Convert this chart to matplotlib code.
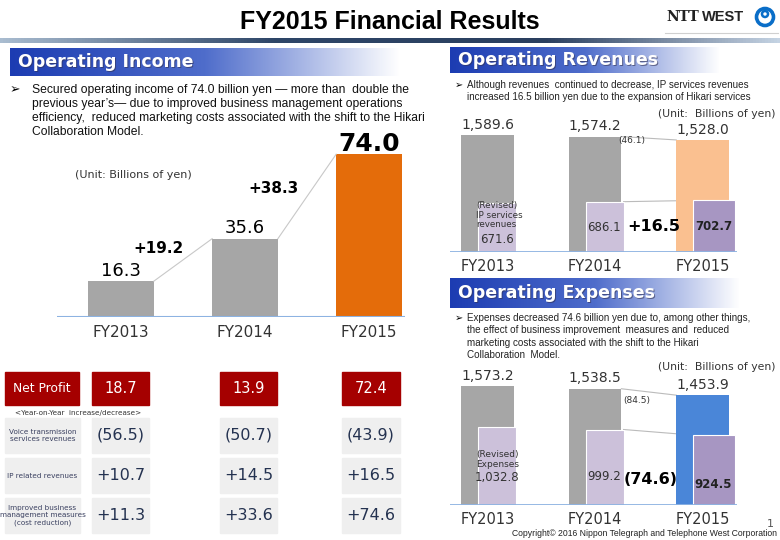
import numpy as np
import matplotlib.pyplot as plt
from matplotlib.colors import LinearSegmentedColormap
from matplotlib.patches import Rectangle, Circle

# ---- data ----
years = ['FY2013', 'FY2014', 'FY2015']

op_income = [16.3, 35.6, 74.0]
op_income_diff = ['+19.2', '+38.3']

revenues = [1589.6, 1574.2, 1528.0]
ip_revenues = [671.6, 686.1, 702.7]
revenues_diff = '(46.1)'
ip_revenues_diff = '+16.5'

expenses = [1573.2, 1538.5, 1453.9]
revised_expenses = [1032.8, 999.2, 924.5]
expenses_diff = '(84.5)'
revised_expenses_diff = '(74.6)'

net_profit = [18.7, 13.9, 72.4]
yoy_labels = ['Voice transmission\nservices revenues',
              'IP related revenues',
              'Improved business\nmanagement measures\n(cost reduction)']
yoy_voice = ['(56.5)', '(50.7)', '(43.9)']
yoy_ip = ['+10.7', '+14.5', '+16.5']
yoy_cost = ['+11.3', '+33.6', '+74.6']

# ---- figure ----
W, H = 780, 540
fig = plt.figure(figsize=(7.8, 5.4), dpi=100)
bg = fig.add_axes([0, 0, 1, 1])
bg.set_xlim(0, W)
bg.set_ylim(H, 0)
bg.axis('off')

SANS = ['Liberation Sans', 'DejaVu Sans']
gray = '#A6A6A6'
lav = '#CCC1DA'
lav_dark = '#A796C2'


def add_ax(left, top, right, bottom):
    a = fig.add_axes([left / W, 1 - bottom / H, (right - left) / W, (bottom - top) / H])
    a.patch.set_alpha(0)
    for s in a.spines.values():
        s.set_visible(False)
    a.tick_params(length=0)
    a.set_yticks([])
    return a


def gradient(x0, y0, x1, y1, colors, stops=None):
    cm = LinearSegmentedColormap.from_list('g', list(zip(stops, colors)) if stops else colors)
    bg.imshow(np.linspace(0, 1, 256).reshape(1, -1), cmap=cm, aspect='auto',
              extent=(x0, x1, y1, y0), zorder=1)


def header(x0, y0, x1, y1, text):
    gradient(x0, y0, x1, y1, ['#1C3CB2', '#4F6DCB', '#FFFFFF'], [0, 0.5, 1])
    yc = (y0 + y1) / 2
    bg.text(x0 + 9, yc + 1.2, text, color='#333355', fontsize=12.5, fontweight='bold',
            va='center', zorder=3, alpha=0.6)
    bg.text(x0 + 8, yc, text, color='white', fontsize=12.5, fontweight='bold',
            va='center', zorder=4)


# title and logo
bg.text(390, 22, 'FY2015 Financial Results', fontsize=18, fontweight='bold',
        family=SANS, ha='center', va='center')
gradient(0, 38, W, 43, ['#A9BCD0', '#2E4668', '#2A3F5F', '#C5D3E3'], [0, 0.35, 0.7, 1])
bg.text(666, 17, 'NTT', fontsize=10, fontweight='bold', family='DejaVu Serif',
        va='center', color='#222222')
bg.text(702, 17, 'WEST', fontsize=10.5, fontweight='bold', family=SANS,
        va='center', color='#222222')
bg.add_patch(Circle((765, 17), 8.5, fill=False, ec='#0A6EC8', lw=2.6, zorder=3))
bg.add_patch(Circle((765, 14), 3.0, fill=False, ec='#0A6EC8', lw=1.8, zorder=3))
bg.plot([665, 778], [33, 33], color='#D0D0D0', lw=0.8)

# section headers
header(10, 48, 400, 76, 'Operating Income')
header(450, 47, 720, 73, 'Operating Revenues')
header(450, 278, 740, 308, 'Operating Expenses')

# bullets
bg.text(10, 90, '➢', fontsize=9, family=SANS, va='center')
left_lines = ['Secured operating income of 74.0 billion yen \u2014 more than  double the',
              'previous year\u2019s\u2014 due to improved business management operations',
              'efficiency,  reduced marketing costs associated with the shift to the Hikari',
              'Collaboration Model.']
for k, line in enumerate(left_lines):
    bg.text(32, 90 + 14 * k, line, fontsize=8.7, family=SANS, va='center', color='#111111')

bg.text(455, 85, '➢', fontsize=7, family=SANS, va='center')
for k, line in enumerate(['Although revenues  continued to decrease, IP services revenues',
                          'increased 16.5 billion yen due to the expansion of Hikari services']):
    bg.text(467, 85 + 12.5 * k, line, fontsize=7.1, family=SANS, va='center', color='#222222')

bg.text(455, 318, '➢', fontsize=7, family=SANS, va='center')
for k, line in enumerate(['Expenses decreased 74.6 billion yen due to, among other things,',
                          'the effect of business improvement  measures and  reduced',
                          'marketing costs associated with the shift to the Hikari',
                          'Collaboration  Model.']):
    bg.text(467, 318 + 12.3 * k, line, fontsize=7.1, family=SANS, va='center', color='#222222')

# ---- operating income chart ----
ax1 = add_ax(57, 130, 405, 317)
x = np.arange(3)
w1 = 0.53
ax1.bar(x, op_income, width=w1, color=[gray, gray, '#E46C0A'], zorder=2)
ax1.axhline(0, color='#8DB3E2', lw=1.5, zorder=3)
ax1.set_xlim(-0.516, 2.29)
ax1.set_ylim(0, 85)
ax1.set_xticks(x, years, fontsize=11, color='#333333')
ax1.tick_params(axis='x', pad=6)
for i, v in enumerate(op_income):
    if i == 2:
        ax1.text(i, v - 0.6, f'{v:.1f}', ha='center', va='bottom', fontsize=18, fontweight='bold')
    else:
        ax1.text(i, v + 0.6, f'{v:.1f}', ha='center', va='bottom', fontsize=13)
for i, d in enumerate(op_income_diff):
    ax1.plot([i + w1 / 2, i + 1 - w1 / 2], [op_income[i], op_income[i + 1]],
             color='#C8C8C8', lw=0.8)
    ax1.text(i + 0.3 - 0.07 * i, (op_income[i] + op_income[i + 1]) / 2 + 5 - 1.6 * i, d,
             ha='center', va='center', fontsize=11, fontweight='bold')
bg.text(75, 175, '(Unit: Billions of yen)', fontsize=8, va='center', color='#333333')

# ---- operating revenues / expenses charts ----
wb = 0.49
sub_off = -0.085
sub_w = 0.35


def stacked_chart(top, bottom, totals, subs, last_color, ymax):
    a = add_ax(450, top, 737, bottom)
    a.bar(x, totals, width=wb, color=[gray, gray, last_color], zorder=2)
    a.bar(x + sub_off, subs, width=[sub_w, sub_w, sub_w + 0.04], align='edge',
          color=[lav, lav, lav_dark], edgecolor='white', lw=0.8, zorder=3)
    a.axhline(0, color='#8DB3E2', lw=1.3, zorder=4)
    a.set_xlim(-0.349, 2.32)
    a.set_ylim(0, ymax)
    a.set_xticks(x, years, fontsize=10.5, color='#333333')
    a.tick_params(axis='x', pad=5)
    for i, v in enumerate(totals):
        a.text(i, v + 45, f'{v:,.1f}', ha='center', va='bottom', fontsize=10, color='#333333')
    a.plot([1 + wb / 2, 2 - wb / 2], [totals[1], totals[2]], color='#BBBBBB', lw=0.8, zorder=1)
    a.plot([1 + sub_off + sub_w, 2 + sub_off], [subs[1], subs[2]], color='#BBBBBB', lw=0.8, zorder=1)
    return a


ax2 = stacked_chart(120, 252, revenues, ip_revenues, '#FAC090', 1800)
ax2.text(-0.105, ip_revenues[0] * 0.75, '(Revised)\nIP services\nrevenues', fontsize=6.3,
         va='center', color='#333333', linespacing=1.1, zorder=5)
ax2.text(0.09, ip_revenues[0] * 0.26, f'{ip_revenues[0]:.1f}', ha='center', va='center',
         fontsize=8.5, color='#333333', zorder=5)
ax2.text(1.08, ip_revenues[1] * 0.48, f'{ip_revenues[1]:.1f}', ha='center', va='center',
         fontsize=8.5, color='#333333', zorder=5)
ax2.text(2.1, ip_revenues[2] * 0.5, f'{ip_revenues[2]:.1f}', ha='center', va='center',
         fontsize=8.5, fontweight='bold', color='#222222', zorder=5)
ax2.text(1.55, ip_revenues[2] * 0.5, ip_revenues_diff, ha='center', va='center',
         fontsize=11.5, fontweight='bold', zorder=5)
ax2.text(1.34, revenues[1] - 60, revenues_diff, ha='center', va='center', fontsize=6.5,
         color='#333333', zorder=5)
bg.text(775, 114, '(Unit:  Billions of yen)', fontsize=7.8, ha='right', va='center',
        color='#333333')

ax3 = stacked_chart(369, 505, expenses, revised_expenses, '#4A86D8', 1800)
ax3.text(-0.105, revised_expenses[0] * 0.58, '(Revised)\nExpenses', fontsize=6.5,
         va='center', color='#333333', linespacing=1.1, zorder=5)
ax3.text(0.09, revised_expenses[0] * 0.35, f'{revised_expenses[0]:,.1f}', ha='center',
         va='center', fontsize=8.5, color='#333333', zorder=5)
ax3.text(1.08, revised_expenses[1] * 0.38, f'{revised_expenses[1]:.1f}', ha='center',
         va='center', fontsize=8.5, color='#333333', zorder=5)
ax3.text(2.1, revised_expenses[2] * 0.3, f'{revised_expenses[2]:.1f}', ha='center',
         va='center', fontsize=8.5, fontweight='bold', color='#222222', zorder=5)
ax3.text(1.52, revised_expenses[2] * 0.36, revised_expenses_diff, ha='center', va='center',
         fontsize=11.5, fontweight='bold', zorder=5)
ax3.text(1.39, expenses[1] - 150, expenses_diff, ha='center', va='center', fontsize=6.5,
         color='#333333', zorder=5)
bg.text(775, 367, '(Unit:  Billions of yen)', fontsize=7.8, ha='right', va='center',
        color='#333333')

# ---- net profit / year-on-year table ----
red = '#A50000'
cell_gray = '#EFEFEF'
val_cols = [(92, 149), (220, 277), (342, 400)]
bg.add_patch(Rectangle((5, 372), 74, 33, color=red, zorder=2))
bg.text(42, 388.5, 'Net Profit', color='white', fontsize=8.8, ha='center', va='center', zorder=3)
for (c0, c1), v in zip(val_cols, net_profit):
    bg.add_patch(Rectangle((c0, 372), c1 - c0, 33, color=red, zorder=2))
    bg.text((c0 + c1) / 2, 388.5, f'{v:.1f}', color='white', fontsize=10.5,
            ha='center', va='center', zorder=3)
bg.text(15, 413, '<Year-on-Year  increase/decrease>', fontsize=5.2, va='center', color='#333333')

rows = [yoy_voice, yoy_ip, yoy_cost]
for r, (lab, vals) in enumerate(zip(yoy_labels, rows)):
    y0 = 418 + 40 * r
    bg.add_patch(Rectangle((5, y0), 75, 35, color=cell_gray, zorder=2))
    bg.text(42.5, y0 + 17.5, lab, fontsize=5.2, ha='center', va='center',
            color='#3A4060', linespacing=1.2, zorder=3)
    for (c0, c1), v in zip(val_cols, vals):
        bg.add_patch(Rectangle((c0, y0), c1 - c0, 35, color=cell_gray, zorder=2))
        bg.text((c0 + c1) / 2, y0 + 17.5, v, fontsize=11.5, ha='center', va='center',
                color='#243250', zorder=3)

# footer
bg.text(774, 524, '1', fontsize=8, ha='right', va='center', color='#555555')
bg.text(777, 533, 'Copyright\u00a9 2016 Nippon Telegraph and Telephone West Corporation',
        fontsize=6.2, ha='right', va='center', family=SANS, color='#222222')

fig.savefig('out.png', dpi=100)
